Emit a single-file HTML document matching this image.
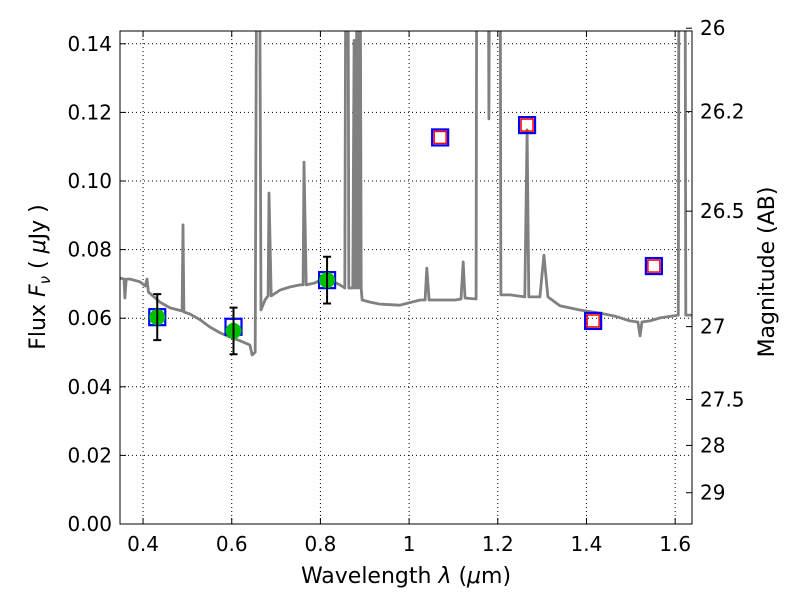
<!DOCTYPE html>
<html><head><meta charset="utf-8"><style>
body{margin:0;background:#fff;}
svg text{font-family:"DejaVu Sans","Liberation Sans",sans-serif;}
</style></head><body>
<svg id="chart" width="800" height="600" xmlns="http://www.w3.org/2000/svg">
<rect width="800" height="600" fill="#fff"/>
<g id="grid"></g>
<g id="spec"></g>
<g id="marks"></g>
<g id="axes"></g>
<text x="406" y="583" font-size="22" text-anchor="middle">Wavelength  <tspan font-style="italic">λ</tspan> (<tspan font-style="italic">μ</tspan>m)</text>
<text transform="translate(45,277) rotate(-90)" font-size="22" text-anchor="middle">Flux  <tspan font-style="italic">F</tspan><tspan font-style="italic" font-size="15" dy="5">ν</tspan><tspan dy="-5">  (  </tspan><tspan font-style="italic">μ</tspan>Jy )</text>
<text transform="translate(774,272) rotate(-90)" font-size="22" text-anchor="middle">Magnitude (AB)</text>
</svg>
<script>
const xTicks=[0.4,0.6,0.8,1.0,1.2,1.4,1.6];
const xTickLabels=["0.4","0.6","0.8","1","1.2","1.4","1.6"];
const yTicks=[0,0.02,0.04,0.06,0.08,0.10,0.12,0.14];
const yTickLabels=["0.00","0.02","0.04","0.06","0.08","0.10","0.12","0.14"];
const magTicks=[26,26.2,26.5,27,27.5,28,29];
const magTickLabels=["26","26.2","26.5","27","27.5","28","29"];
const specWave=[0.348,0.357,0.359,0.362,0.371,0.393,0.405,0.409,0.412,0.438,0.461,0.488,0.490,0.492,0.506,0.529,0.551,0.574,0.596,0.619,0.641,0.646,0.653,0.657,0.662,0.666,0.675,0.682,0.684,0.689,0.709,0.731,0.754,0.761,0.763,0.768,0.788,0.799,0.822,0.844,0.855,0.858,0.862,0.864,0.873,0.876,0.878,0.880,0.883,0.885,0.887,0.889,0.892,0.894,0.912,0.934,0.979,1.025,1.036,1.040,1.045,1.070,1.104,1.117,1.122,1.126,1.151,1.153,1.178,1.180,1.182,1.205,1.207,1.228,1.261,1.266,1.270,1.295,1.304,1.313,1.340,1.385,1.430,1.464,1.498,1.516,1.521,1.525,1.543,1.566,1.607,1.609,1.622,1.624,1.638];
const specFlux=[0.0717,0.0714,0.0659,0.0714,0.0714,0.0706,0.0694,0.0714,0.0676,0.0647,0.0630,0.0621,0.0872,0.0618,0.0612,0.0595,0.0574,0.0557,0.0545,0.0534,0.0522,0.0493,0.0501,0.2,0.2,0.0624,0.0653,0.0665,0.0965,0.0665,0.0682,0.0691,0.0697,0.0697,0.1055,0.0697,0.0703,0.0711,0.0711,0.0697,0.0688,0.2,0.2,0.0688,0.0688,0.141,0.0688,0.0688,0.2,0.0688,0.0688,0.2,0.0688,0.0653,0.0647,0.0641,0.0638,0.0653,0.0653,0.0746,0.0653,0.0653,0.0653,0.0656,0.0764,0.0659,0.0656,0.2,0.2,0.1181,0.2,0.2,0.0668,0.0668,0.0662,0.1149,0.0662,0.0662,0.0784,0.0662,0.0636,0.0624,0.0615,0.0606,0.0592,0.0589,0.0548,0.0589,0.0592,0.0601,0.0609,0.2,0.2,0.0609,0.0609];
const detWave=[0.432,0.604,0.815];
const detFlux=[0.0603,0.0563,0.0711];
const detErr=[0.0067,0.0068,0.0068];
const modelWave=[0.432,0.604,0.815,1.070,1.266,1.415,1.552];
const modelFlux=[0.0603,0.0575,0.0711,0.1127,0.1163,0.0592,0.0752];
const upWave=[1.070,1.266,1.415,1.552];
const upFlux=[0.1127,0.1163,0.0592,0.0752];

const L=120,R=692,T=31,B=524,X0=0.348,X1=1.638,Y0=0,Y1=0.14373;
const xs=w=>L+(w-X0)/(X1-X0)*(R-L);
const ys=f=>B-(f-Y0)/(Y1-Y0)*(B-T);
const magToFlux=m=>Math.pow(10,(23.9-m)/2.5);
const NS="http://www.w3.org/2000/svg";
function mk(tag,parent,attrs){const e=document.createElementNS(NS,tag);for(const k in attrs)e.setAttribute(k,attrs[k]);parent.appendChild(e);return e;}
const grid=document.getElementById('grid'),axes=document.getElementById('axes'),spec=document.getElementById('spec'),marks=document.getElementById('marks');

xTicks.forEach((t,i)=>{const x=xs(t);
 const g=mk('line',grid,{x1:x,x2:x,y1:T,y2:B,stroke:'#000','stroke-width':1,'stroke-dasharray':'1,3'});
 
 
 mk('line',axes,{x1:x,x2:x,y1:B,y2:B-6,stroke:'#000'});
 mk('line',axes,{x1:x,x2:x,y1:T,y2:T+6,stroke:'#000'});
 const tx=mk('text',axes,{x:x,y:B+27,'font-size':20,'text-anchor':'middle'});tx.textContent=xTickLabels[i];
 
 
});
yTicks.forEach((t,i)=>{const y=ys(t);
 const g=mk('line',grid,{x1:L,x2:R,y1:y,y2:y,stroke:'#000','stroke-width':1,'stroke-dasharray':'1,3'});
 
 
 mk('line',axes,{x1:L,x2:L+6,y1:y,y2:y,stroke:'#000'});
 const tx=mk('text',axes,{x:L-8,y:y+7,'font-size':20,'text-anchor':'end'});tx.textContent=yTickLabels[i];
 
 
});
magTicks.forEach((m,i)=>{const y=ys(magToFlux(m));
 mk('line',axes,{x1:R,x2:R-6,y1:y,y2:y,stroke:'#000'});
 const tx=mk('text',axes,{x:R+8,y:y+7,'font-size':20,'text-anchor':'start'});tx.textContent=magTickLabels[i];
 
 
});
const fr=mk('rect',axes,{x:L,y:T,width:R-L,height:B-T,fill:'none',stroke:'#000','stroke-width':1});



const cp=mk('clipPath',spec,{id:'clip'});mk('rect',cp,{x:L,y:T,width:R-L,height:B-T});
const pts=specWave.map((w,i)=>xs(w).toFixed(1)+','+ys(specFlux[i]).toFixed(1)).join(' ');
const pl=mk('polyline',spec,{points:pts,fill:'none',stroke:'#808080','stroke-width':2.8,'clip-path':'url(#clip)','stroke-linejoin':'round'});



modelWave.forEach((w,i)=>{const x=xs(w),y=ys(modelFlux[i]);
 const r=mk('rect',marks,{x:x-8,y:y-8,width:16,height:16,fill:'none',stroke:'#0000ff','stroke-width':2.2});
 
 
});
upWave.forEach((w,i)=>{const x=xs(w),y=ys(upFlux[i]);
 const r=mk('rect',marks,{x:x-6,y:y-6,width:12,height:12,fill:'none',stroke:'#ff0000','stroke-width':1.5});
 
 
});
detWave.forEach((w,i)=>{const x=xs(w),y=ys(detFlux[i]),y1=ys(detFlux[i]+detErr[i]),y2=ys(detFlux[i]-detErr[i]);
 const c=mk('circle',marks,{cx:x,cy:y,r:8,fill:'#00c000'});
 
 
 const e=mk('path',marks,{d:`M${x},${y1}V${y2}M${x-4},${y1}H${x+4}M${x-4},${y2}H${x+4}`,stroke:'#000','stroke-width':2,fill:'none'});
 
 
});
</script>
</body></html>
